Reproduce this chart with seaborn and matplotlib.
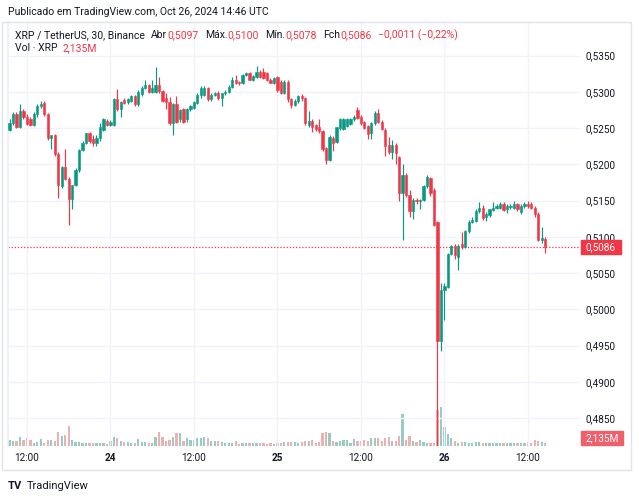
import numpy as np
import pandas as pd
import matplotlib
matplotlib.use("Agg")
import matplotlib.pyplot as plt
import seaborn as sns
from matplotlib.patches import Rectangle

# ---------------- data (XRP/USDT 30m, Binance) ----------------
start_time = "2024-10-23 09:30"
opens = [0.5248,0.5257,0.5270,0.5252,0.5273,0.5266,0.5262,0.5255,0.5270,0.5281,
         0.5285,0.5269,0.5236,0.5240,0.5215,0.5170,0.5196,0.5180,0.5152,0.5172,
         0.5192,0.5220,0.5230,0.5243,0.5235,0.5229,0.5236,0.5248,0.5260,0.5255,
         0.5255,0.5290,0.5277,0.5289,0.5286,0.5288,0.5294,0.5283,0.5297,0.5306,
         0.5309,0.5300,0.5300,0.5310,0.5301,0.5292,0.5286,0.5257,0.5283,0.5262,
         0.5276,0.5262,0.5276,0.5278,0.5285,0.5296,0.5296,0.5305,0.5290,0.5296,
         0.5299,0.5291,0.5298,0.5300,0.5307,0.5317,0.5314,0.5313,0.5324,0.5326,
         0.5317,0.5321,0.5328,0.5327,0.5326,0.5317,0.5313,0.5320,0.5314,0.5299,
         0.5314,0.5290,0.5282,0.5287,0.5295,0.5291,0.5254,0.5260,0.5254,0.5252,
         0.5246,0.5222,0.5206,0.5236,0.5231,0.5250,0.5249,0.5253,0.5256,0.5262,
         0.5275,0.5265,0.5258,0.5253,0.5243,0.5257,0.5271,0.5258,0.5248,0.5227,
         0.5217,0.5227,0.5210,0.5160,0.5186,0.5158,0.5136,0.5151,0.5149,0.5151,
         0.5170,0.5181,0.5165,0.5120,0.4956,0.5027,0.5031,0.5077,0.5088,0.5072,
         0.5090,0.5086,0.5108,0.5121,0.5122,0.5135,0.5140,0.5127,0.5130,0.5137,
         0.5140,0.5140,0.5146,0.5138,0.5141,0.5140,0.5145,0.5134,0.5142,0.5146,
         0.5146,0.5140,0.5132,0.5096,0.5097]
highs = [0.5262,0.5272,0.5272,0.5284,0.5276,0.5270,0.5265,0.5272,0.5283,0.5288,
         0.5287,0.5271,0.5241,0.5242,0.5217,0.5198,0.5221,0.5182,0.5163,0.5195,
         0.5221,0.5232,0.5244,0.5245,0.5240,0.5240,0.5257,0.5264,0.5262,0.5261,
         0.5292,0.5304,0.5288,0.5291,0.5292,0.5296,0.5296,0.5302,0.5308,0.5316,
         0.5311,0.5316,0.5334,0.5320,0.5303,0.5298,0.5293,0.5285,0.5294,0.5277,
         0.5278,0.5278,0.5282,0.5288,0.5298,0.5308,0.5308,0.5307,0.5298,0.5300,
         0.5301,0.5299,0.5302,0.5309,0.5320,0.5323,0.5315,0.5325,0.5328,0.5328,
         0.5323,0.5336,0.5330,0.5333,0.5328,0.5319,0.5321,0.5322,0.5316,0.5316,
         0.5316,0.5292,0.5290,0.5296,0.5297,0.5293,0.5273,0.5262,0.5256,0.5262,
         0.5248,0.5224,0.5240,0.5239,0.5252,0.5264,0.5264,0.5264,0.5264,0.5268,
         0.5279,0.5268,0.5260,0.5255,0.5259,0.5274,0.5277,0.5261,0.5250,0.5238,
         0.5233,0.5229,0.5212,0.5201,0.5188,0.5165,0.5153,0.5153,0.5152,0.5172,
         0.5186,0.5183,0.5167,0.5122,0.5036,0.5036,0.5078,0.5089,0.5090,0.5090,
         0.5107,0.5110,0.5123,0.5128,0.5138,0.5148,0.5144,0.5134,0.5139,0.5148,
         0.5145,0.5148,0.5148,0.5146,0.5145,0.5149,0.5147,0.5145,0.5148,0.5149,
         0.5148,0.5142,0.5134,0.5113,0.5100]
lows = [0.5246,0.5255,0.5250,0.5250,0.5263,0.5254,0.5253,0.5253,0.5266,0.5278,
        0.5267,0.5234,0.5221,0.5212,0.5153,0.5168,0.5178,0.5116,0.5138,0.5170,
        0.5190,0.5218,0.5228,0.5230,0.5225,0.5226,0.5232,0.5246,0.5253,0.5253,
        0.5253,0.5274,0.5266,0.5283,0.5284,0.5286,0.5281,0.5281,0.5295,0.5304,
        0.5298,0.5298,0.5298,0.5298,0.5286,0.5276,0.5255,0.5240,0.5257,0.5258,
        0.5257,0.5259,0.5274,0.5276,0.5283,0.5292,0.5294,0.5288,0.5288,0.5294,
        0.5289,0.5280,0.5296,0.5298,0.5305,0.5311,0.5310,0.5311,0.5322,0.5316,
        0.5315,0.5319,0.5319,0.5318,0.5315,0.5312,0.5311,0.5300,0.5297,0.5297,
        0.5286,0.5278,0.5280,0.5285,0.5287,0.5255,0.5252,0.5245,0.5246,0.5244,
        0.5219,0.5201,0.5204,0.5218,0.5229,0.5248,0.5247,0.5251,0.5254,0.5260,
        0.5262,0.5255,0.5249,0.5235,0.5235,0.5255,0.5257,0.5247,0.5212,0.5215,
        0.5208,0.5200,0.5149,0.5096,0.5155,0.5127,0.5124,0.5146,0.5138,0.5149,
        0.5168,0.5157,0.5115,0.4812,0.4942,0.4985,0.5029,0.5075,0.5070,0.5054,
        0.5083,0.5084,0.5106,0.5119,0.5120,0.5133,0.5123,0.5122,0.5128,0.5135,
        0.5138,0.5138,0.5135,0.5133,0.5139,0.5138,0.5136,0.5131,0.5140,0.5140,
        0.5138,0.5128,0.5094,0.5091,0.5078]
closes = [0.5257,0.5270,0.5252,0.5273,0.5266,0.5256,0.5255,0.5270,0.5281,0.5284,
          0.5269,0.5236,0.5240,0.5214,0.5172,0.5196,0.5180,0.5152,0.5172,0.5192,
          0.5220,0.5230,0.5243,0.5232,0.5229,0.5236,0.5252,0.5262,0.5255,0.5258,
          0.5290,0.5277,0.5286,0.5285,0.5290,0.5294,0.5283,0.5300,0.5306,0.5309,
          0.5300,0.5306,0.5310,0.5301,0.5288,0.5286,0.5257,0.5283,0.5259,0.5275,
          0.5259,0.5276,0.5280,0.5286,0.5296,0.5305,0.5305,0.5290,0.5296,0.5298,
          0.5291,0.5298,0.5300,0.5307,0.5316,0.5313,0.5312,0.5324,0.5326,0.5317,
          0.5322,0.5328,0.5320,0.5319,0.5316,0.5313,0.5319,0.5303,0.5299,0.5314,
          0.5290,0.5282,0.5288,0.5294,0.5291,0.5257,0.5260,0.5252,0.5249,0.5246,
          0.5221,0.5206,0.5238,0.5230,0.5251,0.5262,0.5262,0.5262,0.5263,0.5266,
          0.5264,0.5257,0.5250,0.5242,0.5257,0.5271,0.5259,0.5249,0.5225,0.5217,
          0.5227,0.5216,0.5160,0.5186,0.5158,0.5136,0.5151,0.5149,0.5151,0.5170,
          0.5182,0.5161,0.5117,0.4956,0.5027,0.5032,0.5077,0.5088,0.5075,0.5088,
          0.5086,0.5108,0.5121,0.5123,0.5136,0.5140,0.5126,0.5132,0.5138,0.5140,
          0.5142,0.5146,0.5137,0.5143,0.5143,0.5146,0.5138,0.5142,0.5146,0.5142,
          0.5140,0.5131,0.5096,0.5098,0.5086]
volumes_m = [3.9,3.2,3.2,6.0,3.9,5.0,3.9,1.7,2.8,4.3,
             1.7,3.9,3.9,3.4,9.3,6.5,7.1,13.1,3.9,2.8,
             2.8,2.1,1.7,1.7,1.7,1.7,2.1,2.1,1.3,3.2,
             6.0,5.4,3.4,2.8,2.8,2.1,2.1,4.5,2.8,2.8,
             1.7,1.7,6.0,8.9,6.0,3.4,3.9,6.0,8.2,8.2,
             3.4,5.4,3.9,3.9,5.0,5.0,6.0,5.0,3.4,3.4,
             3.2,2.8,2.1,1.7,1.7,3.2,1.3,1.7,1.7,1.7,
             1.7,1.7,2.1,2.1,1.3,1.7,1.3,2.1,2.1,2.4,
             2.4,2.8,2.8,1.7,2.4,3.2,3.2,3.9,2.1,2.4,
             8.2,9.3,8.2,3.2,2.4,3.2,3.9,3.9,2.1,4.3,
             3.2,3.2,3.9,3.2,5.4,5.0,5.0,3.2,5.0,6.0,
             3.2,3.2,6.5,20.7,3.9,6.5,3.4,2.8,3.9,2.4,
             1.7,2.1,2.1,23.3,25.4,12.1,7.8,5.4,3.2,2.1,
             2.8,2.8,2.1,2.1,2.8,2.8,2.1,2.1,2.1,2.1,
             1.7,1.7,2.1,2.1,1.7,2.1,1.7,1.7,2.1,2.4,
             1.7,3.9,3.4,2.4,2.135]
price_ticks = [0.4850, 0.4900, 0.4950, 0.5000, 0.5050, 0.5100,
               0.5150, 0.5200, 0.5250, 0.5300, 0.5350]

header = "Publicado em TradingView.com, Oct 26, 2024 14:46 UTC"
symbol_text = "XRP / TetherUS, 30, Binance"
ohlc_labels = ["Abr", "Máx.", "Mín.", "Fch"]
change_text = "\u22120,0011 (\u22120,22%)"
vol_title = "Vol \u00b7 XRP"
vol_last_text = "2,135M"

# ---------------- style ----------------
UP = "#089981"
DOWN = "#f23645"
VUP = "#26a69a"
VDOWN = "#ef5350"
TXT = "#131722"
GRID = "#f0f3fa"

sns.set_theme(style="white")
plt.rcParams["font.family"] = ["Roboto", "DejaVu Sans"]

W, H = 639, 500
fig = plt.figure(figsize=(W / 100, H / 100), dpi=100)
fig.patch.set_facecolor("white")

def fx(x):
    return x / W

def fy(y):
    return 1 - y / H

L, R, T, B = 8, 580, 22, 446
rect = [fx(L), fy(B), fx(R) - fx(L), fy(T) - fy(B)]

df = pd.DataFrame({"open": opens, "high": highs, "low": lows,
                   "close": closes, "vol": volumes_m})
df["time"] = pd.date_range(start_time, periods=len(df), freq="30min")
df["idx"] = np.arange(len(df))
df["dir"] = np.where(df["close"] >= df["open"], "up", "down")

# px scale: candle spacing 3.479 px, price 7246 px per unit
xl = ((L - 9.5) / 3.479, (R - 9.5) / 3.479)
yl = (0.5350 - (B - 55.7) / 7246, 0.5350 + (55.7 - T) / 7246)

# volume axes (below)
axv = fig.add_axes(rect)
sns.barplot(data=df, x="idx", y="vol", hue="dir",
            palette={"up": VUP, "down": VDOWN}, native_scale=True,
            dodge=False, width=0.65, alpha=0.5, legend=False,
            errorbar=None, ax=axv, linewidth=0)
axv.set_xlim(*xl)
axv.set_ylim(0, (B - T) * 0.647)
axv.axis("off")

# price axes (top)
ax = fig.add_axes(rect)
ax.patch.set_alpha(0)
ax.set_xlim(*xl)
ax.set_ylim(*yl)
ax.set_axisbelow(True)

colors = np.where(df["dir"] == "up", UP, DOWN)
ax.vlines(df["idx"], df["low"], df["high"], colors=colors, lw=0.85, zorder=3)
ax.bar(df["idx"], df["close"] - df["open"], bottom=df["open"], width=0.65,
       color=colors, edgecolor=colors, linewidth=0.4, zorder=4)

# ticks
is_tick = (df["time"].dt.minute == 0) & (df["time"].dt.hour.isin([0, 12]))
tick_rows = df[is_tick]
xt = list(tick_rows["idx"])
xlabels = [("%d" % t.day) if t.hour == 0 else "12:00" for t in tick_rows["time"]]
ax.set_xticks(xt)
ax.set_xticklabels(xlabels, fontsize=7.2, color=TXT)
for lab, t in zip(ax.get_xticklabels(), tick_rows["time"]):
    if t.hour == 0:
        lab.set_fontweight("bold")
ax.set_yticks(price_ticks)
ax.set_yticklabels([("%.4f" % p).replace(".", ",") for p in price_ticks],
                   fontsize=7.2, color=TXT)
ax.yaxis.tick_right()
ax.tick_params(axis="both", length=0)
ax.tick_params(axis="y", pad=4)
ax.tick_params(axis="x", pad=5)
ax.grid(True, color=GRID, lw=1)
for s in ax.spines.values():
    s.set_visible(False)
ax.spines["left"].set_visible(True)
ax.spines["left"].set_color("#eceff4")

# last price line
last_close = closes[-1]
ax.axhline(last_close, color=DOWN, lw=0.9, ls=(0, (1, 1.5)), zorder=2)

fig.canvas.draw()
renderer = fig.canvas.get_renderer()
ypix = ax.transData.transform((0, last_close))[1]
yfrac = ypix / H
bh = 14 / H
fig.patches.append(Rectangle((fx(581), yfrac - bh / 2), 40 / W, bh,
                             transform=fig.transFigure, color=DOWN, zorder=5))
fig.text(fx(601), yfrac, ("%.4f" % last_close).replace(".", ","),
         color="white", fontsize=7.2, ha="center", va="center", zorder=6)
fig.patches.append(Rectangle((fx(581), fy(445)), 42 / W, 14 / H,
                             transform=fig.transFigure, color="#f0606a", zorder=5))
fig.text(fx(602), fy(438), vol_last_text, color="white", fontsize=7.2,
         ha="center", va="center", zorder=6)

# frame
fig.patches.append(Rectangle((fx(2), fy(470)), (631 - 2) / W, (470 - 22) / H,
                             transform=fig.transFigure, fill=False,
                             ec="#e0e3eb", lw=1, zorder=0))

# header / legend texts (laid out left to right, no overlaps)
fig.text(fx(8), fy(12), header, fontsize=7.5, color=TXT, va="center")

def put(x, y, s, color, gap_after, size=7.5):
    t = fig.text(fx(x), fy(y), s, fontsize=size, color=color, va="center")
    w = t.get_window_extent(renderer=renderer).width
    return x + w + gap_after

vals = [opens[-1], highs[-1], lows[-1], closes[-1]]
x = put(15, 35, symbol_text, TXT, 6)
for lab, v in zip(ohlc_labels, vals):
    x = put(x, 35, lab, TXT, 0.5)
    x = put(x, 35, ("%.4f" % v).replace(".", ","), DOWN, 6)
put(x, 35, change_text, DOWN, 0)
x = put(15, 48, vol_title, TXT, 5)
put(x, 48, vol_last_text, DOWN, 0)

# logo
fig.text(fx(8), fy(486), "TV", fontsize=8, fontweight="bold", color=TXT,
         va="center")
fig.text(fx(27), fy(486), "TradingView", fontsize=8, color=TXT, va="center")

fig.savefig("out.png", dpi=100, facecolor="white")
